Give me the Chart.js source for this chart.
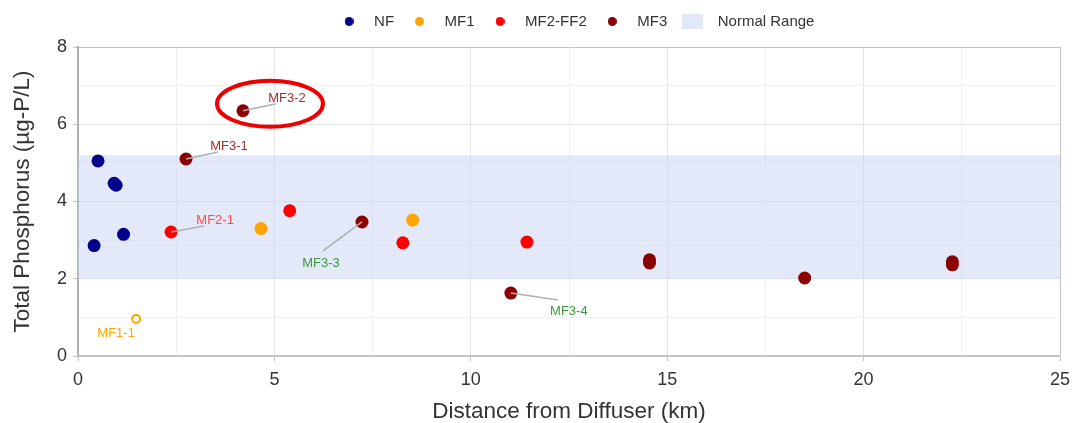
<!DOCTYPE html>
<html lang="en">
<head>
  <meta charset="UTF-8">
  <title>Total Phosphorus vs Distance</title>
  <script src="https://cdn.jsdelivr.net/npm/chart.js"></script>
  <style>
    body { margin: 0; background: #ffffff; }
    .chart-container { width: 1073px; height: 423px; position: relative; }
  </style>
</head>
<body>
  <div class="chart-container">
    <canvas id="tpChart"></canvas>
  </div>

  <script>
    // data
    const nfX = [0.51, 0.92, 0.97, 1.16, 0.41];
    const nfY = [5.05, 4.47, 4.42, 3.15, 2.86];
    const mf1X = [4.66, 8.52, 1.48];
    const mf1Y = [3.30, 3.52, 0.96];
    const mf1Open = [false, false, true];
    const mf2X = [2.37, 5.39, 8.27, 11.43];
    const mf2Y = [3.21, 3.76, 2.93, 2.95];
    const mf3X = [4.20, 2.75, 7.23, 11.02, 14.55, 14.55, 18.50, 22.26, 22.26];
    const mf3Y = [6.35, 5.10, 3.47, 1.63, 2.49, 2.41, 2.02, 2.44, 2.36];
    const normalRange = [2, 5.2];
    const xRange = [0, 25];
    const yRange = [0, 8];

    const seriesNames = ['NF', 'MF1', 'MF2-FF2', 'MF3', 'Normal Range'];
    const calloutNames = ['MF3-2', 'MF3-1', 'MF2-1', 'MF1-1', 'MF3-3', 'MF3-4'];
    const calloutSeries = ['MF3', 'MF3', 'MF2-FF2', 'MF1', 'MF3', 'MF3'];
    const calloutIndex = [0, 1, 0, 2, 2, 3];

    const FONT = "'Liberation Sans', Arial, sans-serif";
    const colors = {
      'NF': '#00008b',
      'MF1': '#ffa500',
      'MF2-FF2': '#ff0000',
      'MF3': '#8b0000',
      'Normal Range': 'rgba(200, 212, 244, 0.5)'
    };

    // label offsets in pixels from their point: text, line end, colour
    const calloutStyle = {
      'MF3-2': { tx: 44, ty: -12, lx: 33, ly: -7, color: '#a03030' },
      'MF3-1': { tx: 43, ty: -13, lx: 32, ly: -7, color: '#a03030' },
      'MF2-1': { tx: 44, ty: -12, lx: 33, ly: -6, color: '#ff4a4a' },
      'MF1-1': { tx: -20, ty: 15, color: '#ffa500' },
      'MF3-3': { tx: -41, ty: 41, lx: -39, ly: 29, color: '#3c9a3c' },
      'MF3-4': { tx: 58, ty: 18, lx: 47, ly: 7, color: '#3c9a3c' }
    };

    function toPoints(xs, ys) {
      return xs.map((x, i) => ({ x: x, y: ys[i] }));
    }

    function dotImage(color, w, h, square) {
      const c = document.createElement('canvas');
      c.width = w; c.height = h;
      const g = c.getContext('2d');
      g.fillStyle = color;
      if (square) {
        g.fillRect(0, 0, w, h);
      } else {
        g.beginPath();
        g.arc(w / 2, h / 2, w / 2, 0, Math.PI * 2);
        g.fill();
      }
      return c;
    }

    const datasets = [
      { label: 'NF', data: toPoints(nfX, nfY) },
      { label: 'MF1', data: toPoints(mf1X, mf1Y) },
      { label: 'MF2-FF2', data: toPoints(mf2X, mf2Y) },
      { label: 'MF3', data: toPoints(mf3X, mf3Y) }
    ].map(d => ({
      ...d,
      type: 'scatter',
      order: 0,
      pointRadius: 6.5,
      pointHoverRadius: 6.5,
      borderWidth: 0,
      backgroundColor: colors[d.label],
      borderColor: colors[d.label]
    }));

    // open marker for MF1-1
    datasets[1].pointBackgroundColor = mf1Open.map(o => o ? '#ffffff' : colors['MF1']);
    datasets[1].pointBorderColor = colors['MF1'];
    datasets[1].pointBorderWidth = mf1Open.map(o => o ? 2 : 0);
    datasets[1].pointRadius = mf1Open.map(o => o ? 4 : 6.5);

    datasets.push({
      label: 'Normal Range',
      type: 'line',
      order: 10,
      data: [{ x: xRange[0], y: normalRange[1] }, { x: xRange[1], y: normalRange[1] }],
      fill: { value: normalRange[0] },
      backgroundColor: colors['Normal Range'],
      borderWidth: 0,
      pointRadius: 0
    });

    const calloutPlugin = {
      id: 'callouts',
      afterDatasetsDraw(chart) {
        const ctx = chart.ctx;
        const xs = chart.scales.x, ys = chart.scales.y;
        calloutNames.forEach((name, i) => {
          const ds = datasets[seriesNames.indexOf(calloutSeries[i])];
          const pt = ds.data[calloutIndex[i]];
          const px = xs.getPixelForValue(pt.x);
          const py = ys.getPixelForValue(pt.y);
          const st = calloutStyle[name];
          ctx.save();
          if (st.lx !== undefined) {
            ctx.strokeStyle = '#b0b0b0';
            ctx.lineWidth = 1.5;
            ctx.beginPath();
            ctx.moveTo(px, py);
            ctx.lineTo(px + st.lx, py + st.ly);
            ctx.stroke();
          }
          ctx.fillStyle = st.color;
          ctx.font = '13px ' + FONT;
          ctx.textAlign = 'center';
          ctx.textBaseline = 'middle';
          ctx.fillText(name, px + st.tx, py + st.ty);
          if (name === 'MF3-2') {
            ctx.strokeStyle = '#ee0000';
            ctx.lineWidth = 4;
            ctx.beginPath();
            ctx.ellipse(px + 27, py - 7, 53, 23, 0, 0, Math.PI * 2);
            ctx.stroke();
          }
          ctx.restore();
        });
      }
    };

    // extra space under the legend, and nudge it a bit right like the original
    const legendGap = {
      id: 'legendGap',
      beforeInit(chart) {
        const fit = chart.legend.fit;
        chart.legend.fit = function () {
          fit.bind(chart.legend)();
          this.height += 8;
        };
      },
      afterLayout(chart) {
        chart.legend.left += 4;
        chart.legend.right += 4;
      }
    };

    const gridColor = (ctx, step, max) => {
      const v = ctx.tick ? ctx.tick.value : 0;
      if (v === 0 || v === max) return '#c4c4c4';
      return v % step === 0 ? '#e4e4e4' : '#f1f1f1';
    };

    new Chart(document.getElementById('tpChart'), {
      data: { datasets: datasets },
      options: {
        responsive: true,
        maintainAspectRatio: false,
        animation: false,
        layout: { padding: { top: 6, right: 0, bottom: 0, left: 4 } },
        plugins: {
          tooltip: { enabled: false },
          legend: {
            position: 'top',
            fullSize: false,
            labels: {
              color: '#333333',
              font: { family: FONT, size: 15 },
              usePointStyle: true,
              pointStyleWidth: 35,
              padding: 8,
              generateLabels(chart) {
                return seriesNames.map((name, i) => ({
                  text: name,
                  datasetIndex: i,
                  fontColor: '#333333',
                  fillStyle: colors[name],
                  strokeStyle: colors[name],
                  lineWidth: 0,
                  hidden: false,
                  pointStyle: name === 'Normal Range'
                    ? dotImage('#e2e8f8', 21, 15, true)
                    : dotImage(colors[name], 9, 9, false)
                }));
              }
            }
          }
        },
        scales: {
          x: {
            type: 'linear',
            min: xRange[0],
            max: xRange[1],
            afterFit: scale => {
              scale.height = 67;
              scale.paddingRight = 13;
            },
            title: {
              display: true,
              text: 'Distance from Diffuser (km)',
              color: '#333333',
              font: { family: FONT, size: 22.5, lineHeight: 1 },
              padding: { top: 0, bottom: 0 }
            },
            ticks: {
              stepSize: 2.5,
              color: '#333333',
              font: { family: FONT, size: 18 },
              padding: 8,
              maxRotation: 0,
              autoSkip: false,
              callback: v => (v % 5 === 0 ? String(v) : '')
            },
            grid: {
              color: ctx => gridColor(ctx, 5, xRange[1]),
              tickColor: ctx => (ctx.tick && ctx.tick.value % 5 === 0 ? '#c4c4c4' : 'rgba(0,0,0,0)'),
              tickLength: 5
            },
            border: { color: '#c4c4c4', width: 1.5 }
          },
          y: {
            type: 'linear',
            min: yRange[0],
            max: yRange[1],
            afterFit: scale => { scale.width = 74; },
            title: {
              display: true,
              text: 'Total Phosphorus (µg-P/L)',
              color: '#333333',
              font: { family: FONT, size: 22.5 },
              padding: { top: 5, bottom: 0 }
            },
            ticks: {
              stepSize: 1,
              color: '#333333',
              font: { family: FONT, size: 18 },
              padding: 6,
              autoSkip: false,
              callback: v => (v % 2 === 0 ? String(v) : '')
            },
            grid: {
              color: ctx => gridColor(ctx, 2, yRange[1]),
              tickColor: ctx => (ctx.tick && ctx.tick.value % 2 === 0 ? '#c4c4c4' : 'rgba(0,0,0,0)'),
              tickLength: 5
            },
            border: { color: '#b0b0b0', width: 2 }
          }
        }
      },
      plugins: [calloutPlugin, legendGap]
    });
  </script>
</body>
</html>
